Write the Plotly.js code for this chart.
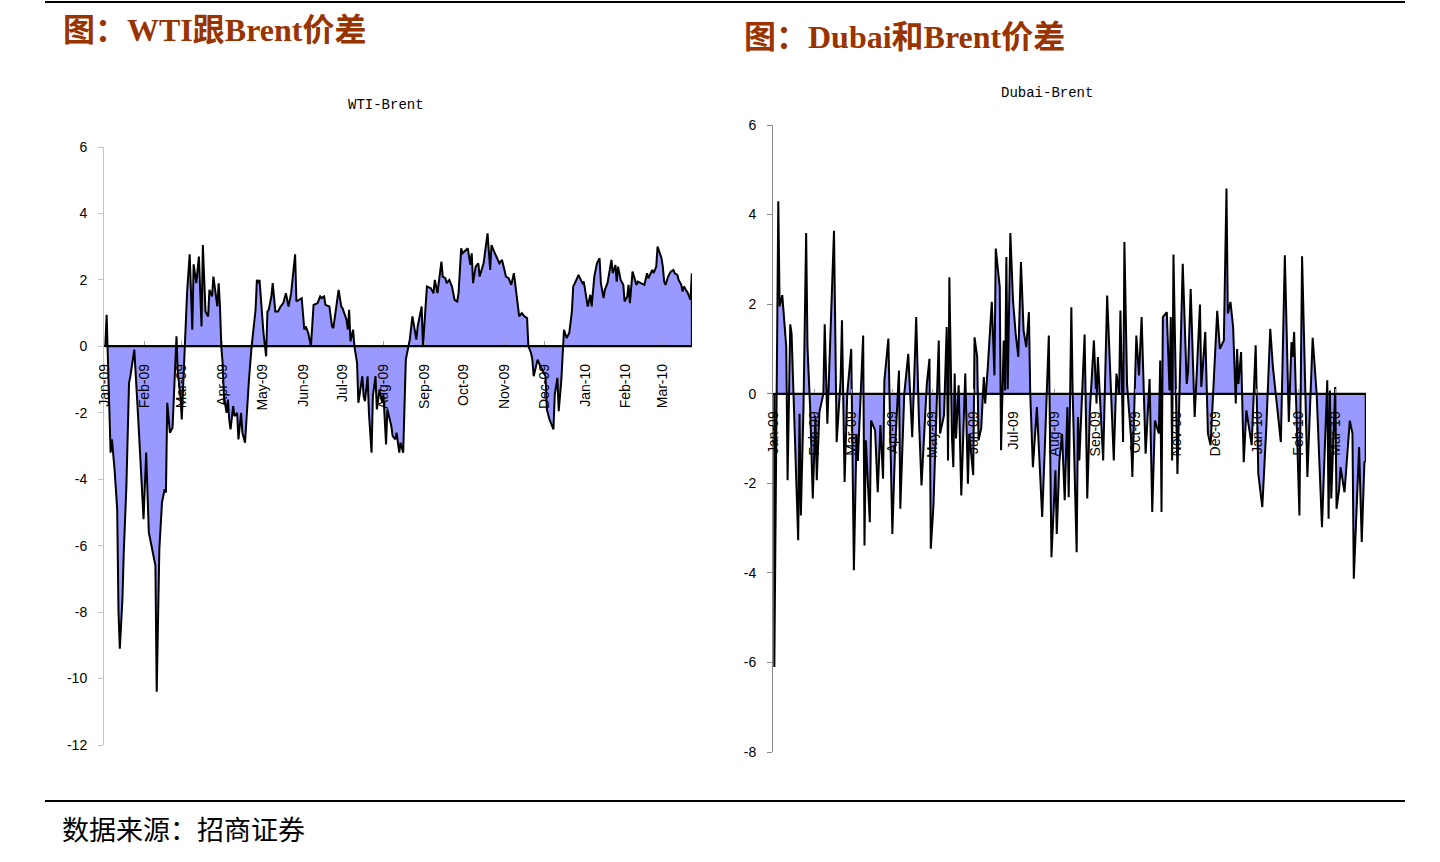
<!DOCTYPE html>
<html>
<head>
<meta charset="utf-8">
<script src="https://cdn.plot.ly/plotly-3.0.1.min.js"></script>
<style>
  html, body { margin: 0; padding: 0; background: #fff; }
  #chart { width: 1440px; height: 862px; }
</style>
</head>
<body>
<div id="chart"></div>
<script>
// WTI minus Brent, USD/bbl
const wtiDates = [
  '2009-01-02','2009-01-03','2009-01-06','2009-01-07','2009-01-09','2009-01-11','2009-01-12','2009-01-13','2009-01-15','2009-01-16',
  '2009-01-18','2009-01-20','2009-01-21','2009-01-24','2009-01-27','2009-01-30','2009-01-31','2009-02-02','2009-02-03','2009-02-04',
  '2009-02-07','2009-02-09','2009-02-10','2009-02-12','2009-02-14','2009-02-16','2009-02-17','2009-02-18','2009-02-20','2009-02-22',
  '2009-02-25','2009-02-26','2009-02-28','2009-03-01','2009-03-03','2009-03-04','2009-03-05','2009-03-07','2009-03-09','2009-03-10',
  '2009-03-12','2009-03-14','2009-03-16','2009-03-17','2009-03-19','2009-03-21','2009-03-22','2009-03-24','2009-03-25','2009-03-28',
  '2009-03-29','2009-03-30','2009-03-31','2009-04-01','2009-04-02','2009-04-04','2009-04-05','2009-04-06','2009-04-07','2009-04-09',
  '2009-04-10','2009-04-12','2009-04-13','2009-04-15','2009-04-16','2009-04-18','2009-04-19','2009-04-21','2009-04-23','2009-04-26',
  '2009-04-27','2009-04-28','2009-04-29','2009-05-01','2009-05-02','2009-05-04','2009-05-05','2009-05-06','2009-05-08','2009-05-09',
  '2009-05-11','2009-05-13','2009-05-15','2009-05-17','2009-05-19','2009-05-21','2009-05-23','2009-05-24','2009-05-26','2009-05-27',
  '2009-05-29','2009-05-31','2009-06-02','2009-06-03','2009-06-05','2009-06-07','2009-06-09','2009-06-12','2009-06-14','2009-06-15',
  '2009-06-17','2009-06-18','2009-06-21','2009-06-23','2009-06-24','2009-06-26','2009-06-28','2009-06-30','2009-07-01','2009-07-04',
  '2009-07-05','2009-07-06','2009-07-07','2009-07-09','2009-07-10','2009-07-12','2009-07-13','2009-07-16','2009-07-17','2009-07-18',
  '2009-07-20','2009-07-21','2009-07-23','2009-07-24','2009-07-26','2009-07-27','2009-07-29','2009-07-31','2009-08-01','2009-08-03',
  '2009-08-04','2009-08-07','2009-08-08','2009-08-10','2009-08-11','2009-08-13','2009-08-14','2009-08-16','2009-08-17','2009-08-18',
  '2009-08-20','2009-08-21','2009-08-23','2009-08-26','2009-08-27','2009-08-30','2009-08-31','2009-09-03','2009-09-06','2009-09-08',
  '2009-09-09','2009-09-11','2009-09-14','2009-09-15','2009-09-17','2009-09-18','2009-09-20','2009-09-22','2009-09-24','2009-09-26',
  '2009-09-27','2009-09-29','2009-09-30','2009-10-03','2009-10-04','2009-10-06','2009-10-07','2009-10-08','2009-10-10','2009-10-12',
  '2009-10-13','2009-10-16','2009-10-17','2009-10-19','2009-10-21','2009-10-22','2009-10-24','2009-10-26','2009-10-28','2009-10-30',
  '2009-10-31','2009-11-02','2009-11-04','2009-11-06','2009-11-08','2009-11-10','2009-11-12','2009-11-14','2009-11-15','2009-11-16',
  '2009-11-18','2009-11-19','2009-11-21','2009-11-22','2009-11-23','2009-11-26','2009-11-28','2009-12-02','2009-12-03','2009-12-05',
  '2009-12-08','2009-12-09','2009-12-11','2009-12-12','2009-12-14','2009-12-15','2009-12-16','2009-12-18','2009-12-20','2009-12-22',
  '2009-12-23','2009-12-26','2009-12-27','2009-12-30','2009-12-31','2010-01-02','2010-01-03','2010-01-05','2010-01-06','2010-01-08',
  '2010-01-10','2010-01-12','2010-01-13','2010-01-15','2010-01-16','2010-01-18','2010-01-20','2010-01-21','2010-01-22','2010-01-24',
  '2010-01-25','2010-01-26','2010-01-28','2010-01-30','2010-01-31','2010-02-02','2010-02-03','2010-02-04','2010-02-06','2010-02-07',
  '2010-02-09','2010-02-10','2010-02-13','2010-02-15','2010-02-17','2010-02-18','2010-02-21','2010-02-22','2010-02-24','2010-02-25',
  '2010-02-28','2010-03-01','2010-03-02','2010-03-03','2010-03-05','2010-03-07','2010-03-09','2010-03-10','2010-03-12','2010-03-13',
  '2010-03-15','2010-03-16','2010-03-17','2010-03-19','2010-03-20','2010-03-22','2010-03-23'
];
const wtiSpread = [
  0.0, 0.95, -3.2, -2.8, -3.7, -4.9, -8.0, -9.1, -7.6, -6.2,
  -4.2, -1.1, -0.9, -0.1, -2.2, -4.2, -5.2, -3.2, -4.7, -5.6,
  -6.2, -6.6, -10.4, -6.1, -4.7, -4.3, -4.4, -1.7, -2.6, -2.45,
  0.3, -0.8, -1.5, -2.2, -0.3, 1.0, 1.6, 2.77, 0.5, 2.47,
  1.9, 2.7, 0.6, 3.05, 1.05, 0.9, 1.7, 1.5, 2.1, 1.2,
  1.9, 1.2, 0.0, -0.5, -1.5, -2.0, -1.6, -2.2, -2.5, -1.8,
  -2.1, -2.0, -2.8, -2.0, -2.6, -2.9, -2.2, -1.0, 0.0, 1.1,
  2.0, 1.9, 2.0, 0.9, 0.4, -0.3, 1.05, 1.1, 1.5, 1.9,
  1.05, 1.05, 1.2, 1.3, 1.6, 1.2, 1.6, 2.0, 2.77, 1.35,
  1.4, 1.45, 0.5, 0.6, 0.4, 0.0, 1.25, 1.3, 1.5, 1.45,
  1.5, 1.25, 1.2, 0.6, 0.55, 1.2, 1.7, 1.2, 1.15, 0.8,
  0.5, 1.1, 0.15, 0.5, 0.0, -0.5, -1.7, -0.9, -1.5, -1.65,
  -0.9, -2.0, -3.2, -1.5, -0.9, -1.9, -1.3, -1.7, -1.45, -2.95,
  -1.9, -2.4, -2.7, -2.8, -2.6, -3.2, -2.9, -3.2, -1.5, -0.4,
  0.0, 0.2, 0.9, 0.2, 0.6, 1.2, 0.0, 1.8, 1.75, 1.6,
  2.0, 1.6, 2.55, 2.1, 2.05, 1.9, 2.0, 1.8, 1.4, 1.35,
  1.6, 2.95, 2.8, 2.9, 2.95, 2.45, 2.8, 1.9, 2.4, 2.5,
  2.1, 2.5, 2.8, 3.4, 2.3, 3.05, 2.85, 2.65, 2.5, 2.6,
  2.45, 2.1, 2.05, 1.85, 2.2, 1.5, 0.9, 1.0, 0.95, 0.9,
  0.85, 0.0, -0.2, -0.4, -0.9, -0.4, -0.6, -0.9, -1.9, -2.2,
  -2.5, -1.45, -0.95, -1.95, -1.0, 0.0, 0.5, 0.25, 0.4, 1.05,
  1.8, 2.05, 2.15, 1.9, 1.95, 1.45, 1.2, 1.55, 1.2, 2.1,
  2.5, 2.65, 1.9, 1.45, 1.7, 1.9, 2.3, 2.6, 2.2, 2.45,
  1.95, 2.4, 2.0, 1.85, 1.35, 1.5, 1.85, 1.3, 2.25, 2.1,
  1.85, 1.95, 1.9, 1.85, 2.2, 2.05, 2.3, 2.2, 2.4, 3.0,
  2.65, 2.4, 1.95, 1.85, 2.1, 2.25, 2.3, 2.2, 2.15, 2.0,
  1.85, 1.65, 1.8, 1.65, 1.6, 1.4, 2.2
];

// Dubai minus Brent, USD/bbl
const dubaiDates = [
  '2009-01-02','2009-01-05','2009-01-06','2009-01-08','2009-01-11','2009-01-12','2009-01-14','2009-01-15','2009-01-20','2009-01-21',
  '2009-01-22','2009-01-24','2009-01-26','2009-01-27','2009-01-29','2009-01-31','2009-02-02','2009-02-03','2009-02-05','2009-02-08',
  '2009-02-09','2009-02-11','2009-02-13','2009-02-16','2009-02-18','2009-02-21','2009-02-22','2009-02-24','2009-02-26','2009-03-01',
  '2009-03-03','2009-03-05','2009-03-06','2009-03-10','2009-03-11','2009-03-12','2009-03-15','2009-03-16','2009-03-19','2009-03-21',
  '2009-03-23','2009-03-25','2009-03-26','2009-03-29','2009-04-01','2009-04-03','2009-04-06','2009-04-07','2009-04-10','2009-04-13',
  '2009-04-16','2009-04-19','2009-04-21','2009-04-23','2009-04-27','2009-04-29','2009-04-30','2009-05-02','2009-05-06','2009-05-07',
  '2009-05-10','2009-05-12','2009-05-13','2009-05-14','2009-05-16','2009-05-17','2009-05-18','2009-05-19','2009-05-21','2009-05-23',
  '2009-05-26','2009-05-28','2009-05-29','2009-06-01','2009-06-02','2009-06-04','2009-06-05','2009-06-07','2009-06-09','2009-06-10',
  '2009-06-12','2009-06-15','2009-06-17','2009-06-18','2009-06-21','2009-06-22','2009-06-24','2009-06-25','2009-06-26','2009-06-27',
  '2009-06-29','2009-07-01','2009-07-03','2009-07-05','2009-07-07','2009-07-09','2009-07-11','2009-07-13','2009-07-14','2009-07-16',
  '2009-07-19','2009-07-23','2009-07-25','2009-07-28','2009-07-30','2009-08-02','2009-08-03','2009-08-05','2009-08-07','2009-08-09',
  '2009-08-11','2009-08-12','2009-08-14','2009-08-15','2009-08-18','2009-08-19','2009-08-20','2009-08-24','2009-08-26','2009-08-28',
  '2009-08-31','2009-09-02','2009-09-03','2009-09-07','2009-09-10','2009-09-13','2009-09-15','2009-09-17','2009-09-19','2009-09-20',
  '2009-09-22','2009-09-23','2009-09-25','2009-09-28','2009-09-29','2009-10-02','2009-10-04','2009-10-06','2009-10-09','2009-10-12',
  '2009-10-14','2009-10-16','2009-10-19','2009-10-20','2009-10-21','2009-10-22','2009-10-25','2009-10-27','2009-10-28','2009-10-29',
  '2009-10-30','2009-11-02','2009-11-06','2009-11-09','2009-11-10','2009-11-12','2009-11-15','2009-11-19','2009-11-20','2009-11-23',
  '2009-11-25','2009-11-27','2009-12-02','2009-12-04','2009-12-07','2009-12-09','2009-12-10','2009-12-12','2009-12-14','2009-12-16',
  '2009-12-17','2009-12-18','2009-12-20','2009-12-22','2009-12-24','2009-12-28','2009-12-31','2010-01-02','2010-01-05','2010-01-08',
  '2010-01-11','2010-01-13','2010-01-19','2010-01-22','2010-01-25','2010-01-27','2010-01-28','2010-01-29','2010-02-02','2010-02-04',
  '2010-02-08','2010-02-12','2010-02-15','2010-02-19','2010-02-23','2010-02-24','2010-02-25','2010-02-26','2010-03-01','2010-03-02',
  '2010-03-04','2010-03-05','2010-03-08','2010-03-12','2010-03-14','2010-03-15','2010-03-19','2010-03-21','2010-03-23','2010-03-24'
];
const dubaiSpread = [
  -6.1, 4.3, 1.95, 2.2, 1.04, -1.93, 1.55, 1.35, -3.27, -0.45,
  -2.72, -0.3, 3.59, 1.04, -0.3, -2.34, -0.5, -1.93, -0.41, 0.0,
  1.55, -0.67, 0.9, 3.64, -1.08, 0.3, 1.64, -1.97, 0.0, 1.0,
  -3.94, -0.9, -1.5, 1.3, -3.39, -1.04, -2.87, -0.6, -0.82, -2.2,
  -0.7, -1.9, 0.3, 1.23, -3.13, -1.26, 0.52, -2.57, 0.0, 0.89,
  -0.97, 1.71, -0.52, -2.05, 0.22, 0.78, -3.46, -2.5, 1.19, -0.89,
  -0.48, 1.49, -1.49, 2.6, -1.0, -1.64, 0.45, -1.0, 0.19, -2.27,
  0.45, -2.01, -0.89, -1.82, 1.26, 0.82, -1.04, -0.78, 0.37, -0.22,
  0.6, 2.05, 0.41, 3.24, 2.38, -1.26, 1.19, 0.07, 3.05, 0.1,
  3.59, 2.08, 1.34, 0.82, 2.94, 1.41, 1.04, 1.82, 0.0, -1.64,
  -0.3, -2.75, -1.2, 1.3, -3.65, -1.71, -3.13, -1.5, -0.9, -2.38,
  -0.3, -2.31, 1.93, 0.0, -3.54, -0.52, -1.49, 1.32, -2.34, -0.37,
  1.19, -0.22, 0.82, -1.49, 2.19, 0.0, -1.49, 0.45, 0.0, 1.86,
  -1.08, 3.39, 0.22, -0.97, -1.86, 1.3, 0.41, 1.71, -1.34, 0.33,
  -2.64, -0.6, -0.89, 0.74, -2.64, 1.71, 1.82, 0.07, 1.71, -1.49,
  3.11, -1.79, 2.9, 0.22, 0.48, 2.34, -0.52, 1.99, 0.15, 1.38,
  -0.89, -1.15, 1.85, 1.0, 1.19, 4.58, 1.79, 2.05, 1.49, -0.22,
  1.0, 0.22, 0.93, -1.53, -0.37, -1.15, 1.08, -1.79, -2.53, -0.78,
  1.45, 0.6, -1.08, 3.09, -0.63, 1.15, 0.82, 1.38, -2.72, 3.07,
  -1.86, 1.25, 0.0, -2.98, 0.3, -2.79, 0.07, -2.34, 0.15, -2.57,
  -2.12, -1.64, -2.2, -0.6, -0.89, -4.13, -1.19, -3.31, -1.53, -1.5
];

const wtiTicksY = [-12, -10, -8, -6, -4, -2, 0, 2, 4, 6];
const dubaiTicksY = [-8, -6, -4, -2, 0, 2, 4, 6];

// page geometry in pixels, converted to paper fractions
const W = 1440, H = 862;
const fx = p => p / W;
const fy = p => 1 - p / H;

const AREA = '#9999ff';
const TEXT_FONT = 'Liberation Sans, Arial, sans-serif';
const HEAD_FONT = 'Liberation Serif, Noto Sans CJK SC, serif';

// area outline closed back along the zero line
function areaTrace(dates, vals, xa, ya) {
  const n = dates.length;
  return {
    type: 'scatter', mode: 'lines',
    x: [dates[0]].concat(dates, [dates[n - 1], dates[0]]),
    y: [0].concat(vals, [0, 0]),
    fill: 'toself', fillcolor: AREA,
    line: { color: '#000', width: 2 },
    xaxis: xa, yaxis: ya, hoverinfo: 'skip', showlegend: false
  };
}

// x axis sits on the value 0 of its y axis
function zeroPosition(yDomain, yRange) {
  return yDomain[0] + (0 - yRange[0]) / (yRange[1] - yRange[0]) * (yDomain[1] - yDomain[0]);
}

function dateAxis(domain, range, position) {
  return {
    type: 'date', domain: domain, range: range,
    anchor: 'free', position: position,
    tick0: '2009-01-01', dtick: 'M1', tickformat: '%b-%y',
    ticks: 'inside', ticklen: 4, tickcolor: '#9a9a9a', tickwidth: 1,
    tickangle: -90, ticklabelstandoff: 11,
    tickfont: { family: TEXT_FONT, size: 14, color: '#000' },
    showline: true, linecolor: '#000', linewidth: 2,
    showgrid: false, zeroline: false, fixedrange: true
  };
}

function valueAxis(domain, range, tickvals, lineColor, xAnchor) {
  return {
    domain: domain, range: range, anchor: xAnchor,
    tickmode: 'array', tickvals: tickvals,
    ticktext: tickvals.map(v => String(v)),
    ticks: 'outside', ticklen: 5, tickcolor: lineColor, tickwidth: 1,
    ticklabelstandoff: 8,
    tickfont: { family: TEXT_FONT, size: 14, color: '#000' },
    showline: true, linecolor: lineColor, linewidth: 1,
    showgrid: false, zeroline: false, fixedrange: true
  };
}

const wtiYDomain = [fy(745), fy(147)], wtiYRange = [-12, 6];
const dubaiYDomain = [fy(752), fy(125)], dubaiYRange = [-8, 6];

const layout = {
  width: W, height: H,
  margin: { l: 0, r: 0, t: 0, b: 0 },
  paper_bgcolor: '#fff', plot_bgcolor: 'rgba(0,0,0,0)',
  showlegend: false,
  xaxis: dateAxis([fx(104), fx(692)], ['2009-01-01', '2010-03-23 03:00'], zeroPosition(wtiYDomain, wtiYRange)),
  yaxis: valueAxis(wtiYDomain, wtiYRange, wtiTicksY, '#c4c4c4', 'x'),
  xaxis2: dateAxis([fx(773), fx(1366)], ['2009-01-01', '2010-03-24 05:00'], zeroPosition(dubaiYDomain, dubaiYRange)),
  yaxis2: valueAxis(dubaiYDomain, dubaiYRange, dubaiTicksY, '#888888', 'x2'),
  shapes: [
    { type: 'line', xref: 'paper', yref: 'paper', x0: fx(45), x1: fx(1405), y0: fy(2), y1: fy(2), line: { color: '#000', width: 2 } },
    { type: 'line', xref: 'paper', yref: 'paper', x0: fx(45), x1: fx(1405), y0: fy(801), y1: fy(801), line: { color: '#000', width: 2 } }
  ],
  annotations: [
    { text: '<b>图：WTI跟Brent价差</b>', xref: 'paper', yref: 'paper', x: fx(61), y: fy(30),
      xanchor: 'left', yanchor: 'middle', showarrow: false,
      font: { family: HEAD_FONT, size: 32, color: '#993300' } },
    { text: '<b>图：Dubai和Brent价差</b>', xref: 'paper', yref: 'paper', x: fx(742), y: fy(37),
      xanchor: 'left', yanchor: 'middle', showarrow: false,
      font: { family: HEAD_FONT, size: 32, color: '#993300' } },
    { text: 'WTI-Brent', xref: 'paper', yref: 'paper', x: fx(386), y: fy(105),
      xanchor: 'center', yanchor: 'middle', showarrow: false,
      font: { family: 'Liberation Mono, DejaVu Sans Mono, monospace', size: 14, color: '#000' } },
    { text: 'Dubai-Brent', xref: 'paper', yref: 'paper', x: fx(1047), y: fy(93),
      xanchor: 'center', yanchor: 'middle', showarrow: false,
      font: { family: 'Liberation Mono, DejaVu Sans Mono, monospace', size: 14, color: '#000' } },
    { text: '数据来源：招商证券', xref: 'paper', yref: 'paper', x: fx(60), y: fy(828),
      xanchor: 'left', yanchor: 'middle', showarrow: false,
      font: { family: 'Noto Sans CJK SC, sans-serif', size: 27, color: '#000' } }
  ]
};

const data = [
  areaTrace(wtiDates, wtiSpread, 'x', 'y'),
  areaTrace(dubaiDates, dubaiSpread, 'x2', 'y2')
];

Plotly.newPlot('chart', data, layout, { displayModeBar: false, staticPlot: true });
</script>
</body>
</html>
